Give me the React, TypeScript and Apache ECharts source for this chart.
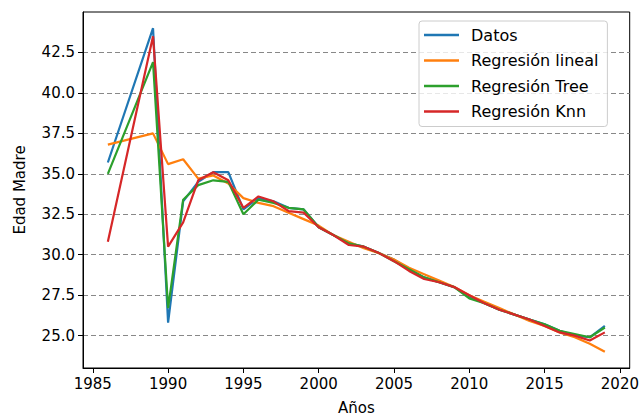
import React, { useEffect, useRef } from "react";
import * as echarts from "echarts";

const years = [1986, 1989, 1990, 1991, 1992, 1993, 1994, 1995, 1996, 1997, 1998, 1999, 2000, 2001, 2002, 2003, 2004, 2005, 2006, 2007, 2008, 2009, 2010, 2011, 2012, 2013, 2014, 2015, 2016, 2017, 2018, 2019];

const datos = [35.7, 44.0, 25.8, 33.3, 34.5, 35.1, 35.1, 32.8, 33.5, 33.3, 32.9, 32.8, 31.7, 31.2, 30.7, 30.5, 30.1, 29.7, 29.1, 28.6, 28.3, 28.0, 27.4, 27.0, 26.6, 26.3, 26.0, 25.7, 25.3, 25.0, 24.9, 25.6];
const lineal = [36.8, 37.5, 35.6, 35.9, 34.7, 34.9, 34.4, 33.5, 33.2, 33.0, 32.6, 32.2, 31.8, 31.2, 30.8, 30.4, 30.1, 29.7, 29.2, 28.8, 28.4, 28.0, 27.5, 27.1, 26.7, 26.3, 25.9, 25.6, 25.2, 24.9, 24.5, 24.0];
const tree = [35.0, 41.9, 26.7, 33.4, 34.3, 34.6, 34.5, 32.5, 33.4, 33.2, 32.9, 32.8, 31.7, 31.2, 30.7, 30.5, 30.1, 29.6, 29.1, 28.6, 28.3, 28.0, 27.3, 27.0, 26.6, 26.3, 26.0, 25.7, 25.3, 25.1, 24.9, 25.5];
const knn = [30.8, 43.5, 30.5, 32.0, 34.6, 35.1, 34.6, 32.9, 33.6, 33.3, 32.7, 32.6, 31.7, 31.2, 30.6, 30.5, 30.1, 29.6, 29.0, 28.5, 28.3, 28.0, 27.5, 27.0, 26.6, 26.3, 26.0, 25.6, 25.2, 25.0, 24.7, 25.2];

const seriesNames = ["Datos", "Regresión lineal", "Regresión Tree", "Regresión Knn"];
const seriesColors = ["#1f77b4", "#ff7f0e", "#2ca02c", "#d62728"];
const seriesValues = [datos, lineal, tree, knn];

const xTicks = [1985, 1990, 1995, 2000, 2005, 2010, 2015, 2020];
const yTicks = [25, 27.5, 30, 32.5, 35, 37.5, 40, 42.5];

const FONT = "DejaVu Sans";
const FS = 15;

export default function App() {
  const ref = useRef<HTMLDivElement>(null);
  useEffect(() => {
    if (!ref.current) return;
    const chart = echarts.init(ref.current, undefined, { renderer: "svg" });
    chart.setOption({
      animation: false,
      backgroundColor: "#ffffff",
      textStyle: { fontFamily: FONT },
      grid: {
        left: 83,
        top: 12,
        right: 11,
        bottom: 50,
        show: true,
        borderColor: "#000",
        borderWidth: 1,
        backgroundColor: "transparent",
      },
      legend: {
        orient: "vertical",
        left: 419,
        top: 21,
        padding: [5, 9, 6, 5],
        itemWidth: 35,
        itemHeight: 2.5,
        itemGap: 7.5,
        icon: "rect",
        backgroundColor: "rgba(255,255,255,0.8)",
        borderColor: "#cccccc",
        borderWidth: 1,
        borderRadius: 3,
        textStyle: {
          fontFamily: FONT,
          fontSize: 16,
          color: "#000",
          lineHeight: 18,
          padding: [0, 0, 0, 7],
        },
        data: seriesNames.map((n, i) => ({ name: n, itemStyle: { color: seriesColors[i] } })),
      },
      xAxis: {
        type: "value",
        min: 1984.35,
        max: 2020.65,
        name: "Años",
        nameLocation: "middle",
        nameGap: 32,
        nameTextStyle: { fontFamily: FONT, fontSize: FS, color: "#000" },
        axisLine: { show: true, onZero: false, lineStyle: { color: "#000", width: 1 } },
        axisTick: { show: true, length: 5, inside: false, lineStyle: { color: "#000" }, customValues: xTicks },
        axisLabel: {
          customValues: xTicks,
          margin: 8,
          fontFamily: FONT,
          fontSize: FS,
          color: "#000",
          formatter: (v: number) => String(v),
        },
        splitLine: { show: false },
      },
      yAxis: {
        type: "value",
        min: 23,
        max: 45,
        name: "Edad Madre",
        nameLocation: "middle",
        nameGap: 56,
        nameRotate: 90,
        nameTextStyle: { fontFamily: FONT, fontSize: FS, color: "#000" },
        axisLine: { show: true, onZero: false, lineStyle: { color: "#000", width: 1 } },
        axisTick: { show: true, length: 5, inside: false, lineStyle: { color: "#000" }, customValues: yTicks },
        axisLabel: {
          customValues: yTicks,
          margin: 8,
          fontFamily: FONT,
          fontSize: FS,
          color: "#000",
          formatter: (v: number) => v.toFixed(1),
        },
        splitLine: { show: true, lineStyle: { color: "#888888", width: 1, type: [5, 3] } },
      },
      series: seriesNames.map((n, i) => ({
        name: n,
        type: "line",
        symbol: "none",
        color: seriesColors[i],
        lineStyle: { width: 2.2, color: seriesColors[i] },
        data: years.map((y, j) => [y, seriesValues[i][j]]),
        z: 2 + i,
      })),
    });
    return () => chart.dispose();
  }, []);
  return <div ref={ref} style={{ position: "fixed", left: 0, top: 0, width: 642, height: 420 }} />;
}
